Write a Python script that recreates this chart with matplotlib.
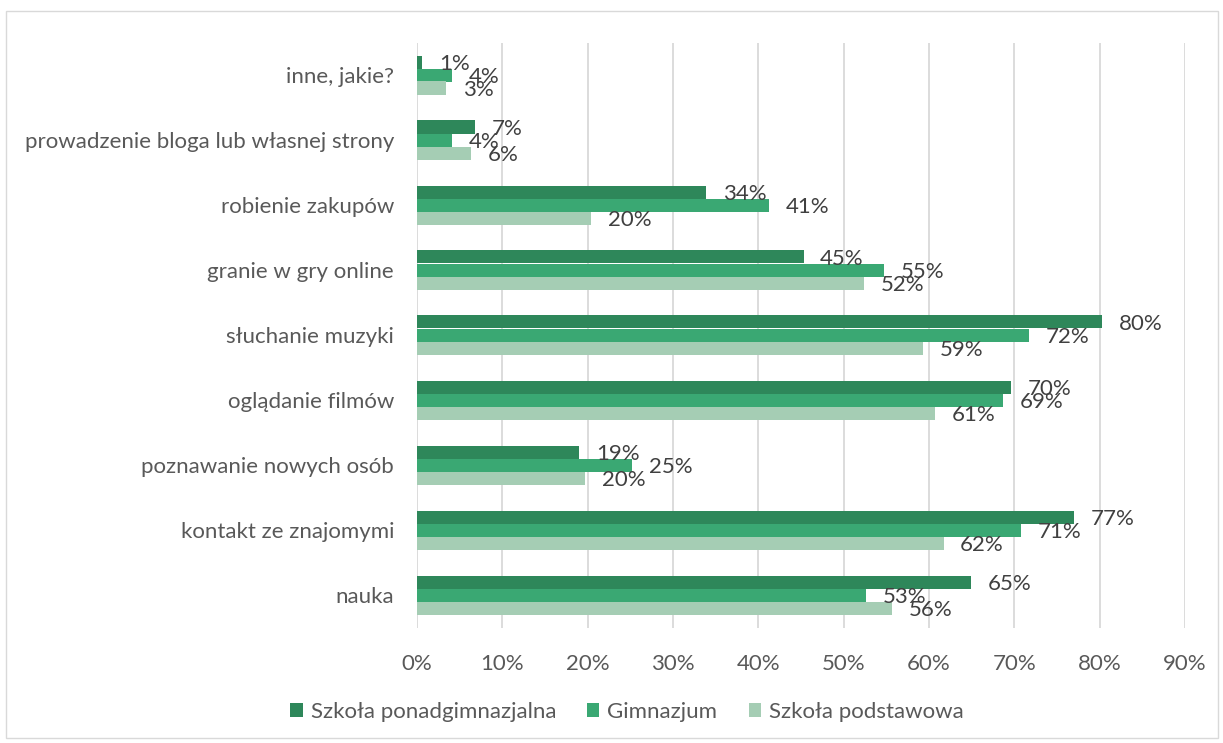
import matplotlib
matplotlib.use("Agg")
import matplotlib.pyplot as plt
from matplotlib.patches import Rectangle
import numpy as np

categories = ["nauka", "kontakt ze znajomymi", "poznawanie nowych osób", "oglądanie filmów",
              "słuchanie muzyki", "granie w gry online", "robienie zakupów",
              "prowadzenie bloga lub własnej strony", "inne, jakie?"]
ponad = [64.9, 77.0, 19.0, 69.6, 80.3, 45.3, 33.9, 6.8, 0.6]
gimn = [52.6, 70.8, 25.2, 68.7, 71.7, 54.7, 41.3, 4.1, 4.1]
podst = [55.7, 61.7, 19.7, 60.7, 59.3, 52.4, 20.4, 6.3, 3.4]
series_names = ["Szkoła ponadgimnazjalna", "Gimnazjum", "Szkoła podstawowa"]
colors = ["#2e875a", "#3aa873", "#a5cdb4"]
xticks = [0, 10, 20, 30, 40, 50, 60, 70, 80, 90]

plt.rcParams['font.family'] = ['Lato', 'DejaVu Sans']
txt = "#595959"
fs = 16

fig = plt.figure(figsize=(12.23, 7.43), dpi=100)
ax = fig.add_axes([417/1223, 1-627.5/743, (1185-417)/1223, (627.5-42.5)/743])

y = np.arange(len(categories))
h = 0.2
for vals, off, c, name in zip([ponad, gimn, podst], [h, 0, -h], colors, series_names):
    bars = ax.barh(y + off, vals, height=h, color=c, label=name, zorder=3)
    for b, v in zip(bars, vals):
        ax.annotate(f"{round(v):.0f}%", (b.get_width(), b.get_y() + b.get_height()/2),
                    xytext=(12, -1.5), textcoords="offset points", ha="left", va="center",
                    fontsize=fs, color="#404040", zorder=4)

ax.set_xlim(0, 90)
ax.set_ylim(-0.5, len(categories) - 0.5)
ax.set_xticks(xticks)
ax.set_xticklabels([f"{t}%" for t in xticks])
ax.set_yticks(y)
ax.set_yticklabels(categories)
ax.tick_params(axis="both", length=0, labelsize=fs, labelcolor=txt)
ax.tick_params(axis="x", pad=19)
ax.tick_params(axis="y", pad=16.5)
for s in ax.spines.values():
    s.set_visible(False)
ax.grid(axis="x", color="#d9d9d9", linewidth=1.3, zorder=0)
ax.set_axisbelow(True)

leg = fig.legend(loc="center", bbox_to_anchor=(627/1223, 1-712/743), ncol=3, frameon=False,
                 fontsize=fs, handlelength=0.55, handleheight=0.55, handletextpad=0.36,
                 columnspacing=1.4)
for t in leg.get_texts():
    t.set_color(txt)

fig.patches.append(Rectangle((6/1223, 5/743), 1212/1223, 727/743, transform=fig.transFigure,
                             fill=False, edgecolor="#d9d9d9", linewidth=1))

fig.savefig("out.png", dpi=100)
